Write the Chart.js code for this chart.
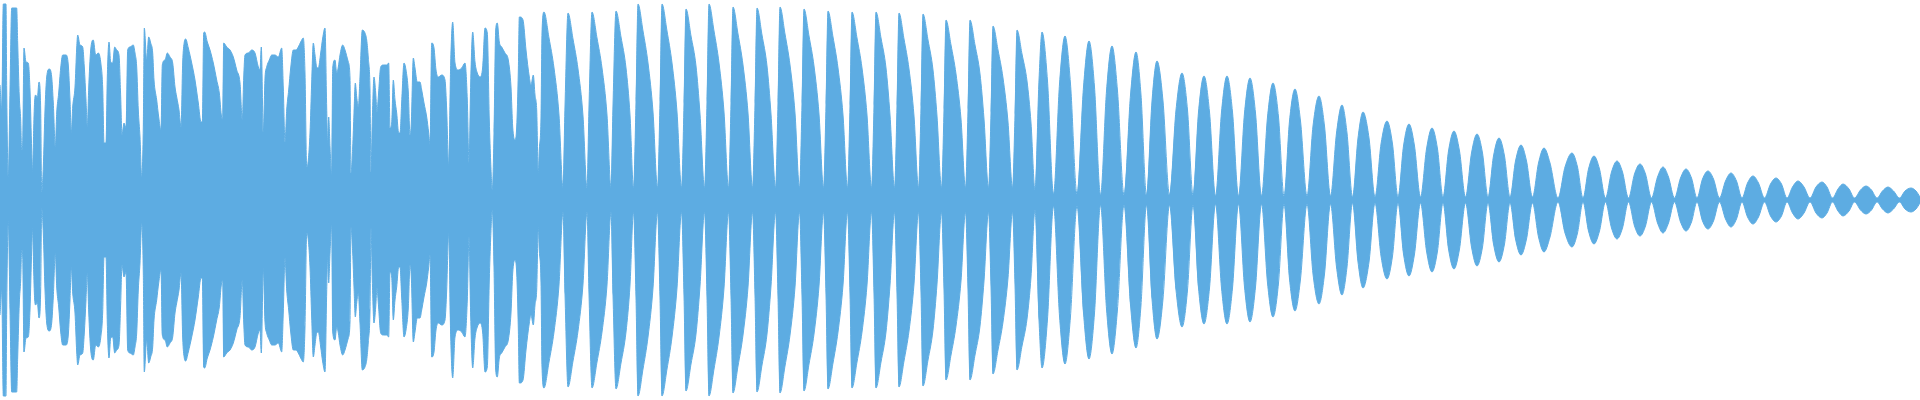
<!DOCTYPE html>
<html><head><meta charset="utf-8">
<script src="https://cdn.jsdelivr.net/npm/chart.js@4"></script>
<style>html,body{margin:0;padding:0;background:#fff;overflow:hidden}</style>
</head><body>
<canvas id="c" width="1920" height="400"></canvas>
<script>
// waveform envelope: [time (ms), peak amplitude]
const attack = [
[0,115],[1.7,90],[3.3,196],[6,196],[6.7,110],[8.3,21],[10,110],[11.7,192],[16.7,192],[17.7,157],[19.3,103],[20.7,80],[21.7,50],[22.7,57],[24,152],[26,138],[28.3,137],[30,110],[31.7,50],[32.7,28],[33.7,72],[34.7,100],[35.7,105],[37.3,102],[39,118],[40.7,90],[41.7,8],[43.3,33],[45,90],[46.7,123],[49.3,131],[51.7,123],[53.3,97],[55.3,53],[56.7,87],[58.7,107],[60.7,132],[62.7,145],[66,145],[68.3,135],[70,100],[71.3,67],[72.7,93],[75,113],[76.7,152],[77.7,165],[80,155],[82.7,153],[84.3,133],[86,100],[87.3,73],[88.7,112],[90.7,150],[93.3,160],[95.7,145],[98.3,147],[100.7,138],[102.7,112],[104,57],[106,57],[107.3,123],[109,158],[110.7,138],[112.7,137],[114.7,153],[116.7,150],[119,145],[120.7,103],[122,65],[124,77],[126,72],[127.7,150],[130,153],[133.3,155],[135,147],[136.7,133],[138.3,90],[140,63],[141.7,23],[143.3,73],[144.3,172],[146.7,140],[148.7,163],[150.7,157],[152.7,147],[154,120],[156.7,100],[158.7,83],[161,70],[162.3,135],[165,140],[167.3,147],[170,143],[172.7,137],[175,113],[176.7,103],[179,90],[181,73],[182.7,138],[184.3,158],[185.7,161],[188.3,152],[191.7,137],[195,120],[198.3,97],[201,78],[202.3,78],[203.7,167],[204.7,168],[207.3,158],[210,150],[213.3,137],[216.7,120],[219.3,107],[221.3,85],[222.7,80],[223.7,157],[226.7,153],[230,150],[233.3,143],[236.7,130],[240,117],[242.3,80],[243.7,122],[245,145],[248.3,147],[251.7,150],[255,147],[258.3,133],[260,130],[261.3,153],[263.3,68],[265,122],[266.7,133],[269.3,140],[271.7,145],[275,145],[278.3,143],[281.7,152],[283.3,112],[285,58],[286.7,90],[288.7,110],[290.7,132],[293.3,150],[296,150],[298.3,153],[300.7,158],[303.3,162],[305,127],[306.7,33],[308.3,40],[310,67],[311.7,118],[313.3,157],[315,145],[316.7,133],[318.3,132],[320.7,147],[322.7,162],[325,172],[326.7,92],[327.7,57],[328.7,83],[330,53],[331.7,25],[332.7,132],[335,140],[336.7,127],[338.3,133],[340,145],[342.7,155],[345,150],[348.3,138],[350,122],[351,27],[352.7,53],[354,87],[355.3,117],[356.7,103],[358.3,93],[360,123],[362.3,170],[365,167],[366.7,160],[368.3,142],[370,110],[371,28],[372.3,80],[374,123],[375.7,107],[377,88],[378.3,103],[380.7,133],[383.3,135],[386.7,135],[388.7,137],[390,72],[391.7,77],[393.3,120],[395,100],[396.7,87],[398.7,67],[400,67],[401.7,98],[404,137],[406,130],[408.3,108],[410,65],[411.3,77],[413.3,142],[415,132],[417.3,118],[420,118],[421.7,110],[424,97],[426.7,83],[428.7,67],[430,55],[431.7,157],[434,152],[436,130],[438.3,123],[441.7,125],[445,120],[446.7,90],[448.7,33],[450.7,137],[452.7,178],[455,137],[458.3,130],[461.7,132],[465,137],[467.3,100],[469,37],[470.7,117],[472.7,168],[475,138],[477.3,127],[480,123],[482.7,133],[485,172],[487.3,167],[489.3,80],[490.7,38],[492.3,10],[494,67],[495.7,170],[497.3,177],[499.3,158],[501.7,153],[505,147],[508.3,140],[511,113],[512.7,73],[515,60],[516.7,73],[518.3,128],[519.3,183],
[520,183],[523,180],[526,150],[529.3,123],[531,115],[533.3,125],[535,105],[536.7,90],[538.3,27],[539.3,50],[541,83],[542,167]
];
const sustain = [
[544,188],[549,162],[554,132],[559,85],[563,12],[565,94],
[568,187],[573,161],[578,131],[583,84],[587,12],[589,94],
[592,188],[597,162],[602,132],[607,85],[611,12],[613,95],
[616,189],[621,163],[626,132],[630,85],[633.5,12],[636,98],
[638,196],[643,169],[648,137],[653,88],[657.5,12],[660,98],
[662,196],[667,169],[672,137],[677,88],[681.5,12],[684,96],
[686,191],[691,164],[696,134],[700,86],[704.5,12],[707,98],
[709,196],[714,169],[719,137],[724,88],[728.5,12],[731,97],
[733,193],[738,166],[743,135],[748,87],[752.5,12],[755,96],
[757,192],[762,165],[767,134],[771,86],[775.5,12],[778,97],
[780,193],[785,166],[790,135],[795,87],[799.5,12],[802,96],
[804,191],[809,164],[814,134],[819,86],[823.5,12],[826,95],
[828,189],[833,163],[838,132],[843,85],[847.5,12],[850,94],
[852,188],[857,162],[862,132],[867,85],[871.5,12],[874,94],
[876,188],[881,162],[886,132],[890,85],[894.5,12],[897,94],
[899,187],[904,161],[909,131],[914,84],[918.5,12],[921,93],
[923,186],[928,160],[933,130],[937,84],[941.5,12],[944,90],
[946,180],[951,155],[956,126],[961,81],[965.5,12],[968,90],
[970,180],[975,155],[980,126],[984,81],[988.5,12],[991,87],
[993,174],[998,150],[1003,122],[1008,78],[1012.5,12],[1015,85],
[1017,170],[1022,146],[1027,119],[1031,77],[1035,10],[1039,120]
];
const release = [
[1042,168],[1047.5,119],[1053.5,6],
[1059.5,116],[1065,164],[1070.5,116],[1077,6],
[1083.5,113],[1089,159],[1094.5,113],[1100.5,5],
[1106.5,109],[1112,154],[1117.5,109],[1124,5],
[1130.5,105],[1136,148],[1141,105],[1146.5,5],
[1152,99],[1157,139],[1163,99],[1169.5,5],
[1176,90],[1182,127],[1187.5,90],[1193,5],
[1198.5,88],[1204,124],[1209.5,88],[1215.5,4],
[1221.5,88],[1227,124],[1232.5,88],[1238.5,4],
[1244.5,87],[1250,122],[1255.5,87],[1261.5,4],
[1267.5,83],[1273,117],[1278.5,83],[1284,4],
[1289.5,79],[1295,111],[1300.5,79],[1307,4],
[1313,74],[1319,104],[1324.5,74],[1330.5,4],
[1336.5,67],[1342,95],[1347,67],[1352.5,3],
[1358,62],[1363,88],[1369,62],[1375,3],
[1381,56],[1387,79],[1392.5,56],[1398,3],
[1403.5,54],[1409,76],[1414.5,54],[1420.5,3],
[1426.5,51],[1432,72],[1437.5,51],[1443,3],
[1448.5,49],[1454,69],[1459.5,49],[1465.5,3],
[1471.5,47],[1477,66],[1482.5,47],[1488,3],
[1493.5,44],[1499,62],[1504.5,44],[1510,3],
[1515.5,39],[1521,55],[1526.5,39],[1532.5,3],
[1538.5,37],[1544,52],[1550,37],[1558,2],
[1565,33],[1572,47],[1577.5,33],[1583,2],
[1588.5,31],[1594,44],[1599.5,31],[1605.5,2],
[1611.5,28],[1617,39],[1622.5,28],[1628.5,2],
[1634.5,26],[1640,36],[1645.5,26],[1651.5,2],
[1657.5,23],[1663,33],[1668.5,23],[1674.5,2],
[1680.5,22],[1686,31],[1691.5,22],[1697,2],
[1702.5,21],[1708,29],[1713.5,21],[1719.5,2],
[1725.5,19],[1731,27],[1736.5,19],[1742,2],
[1747.5,17],[1753,24],[1758.5,17],[1764.5,2],
[1770.5,16],[1776,22],[1781.5,16],[1787,2],
[1792.5,13],[1798,19],[1804,13],[1810,2],
[1816,13],[1822,18],[1827,13],[1832.5,2],
[1838,11],[1843,16],[1849,11],[1854.5,2],
[1860.5,10],[1866,14],[1871.5,10],[1877,2],
[1882.5,9],[1888,13],[1893.5,9],[1899.5,2],
[1905,9],[1911,12],[1916,9],[1920,3]
];
const envelope = attack.concat(sustain, release);
const color = '#5dace2';
const upper = envelope.map(p => ({x: p[0], y: p[1]}));
const lower = envelope.map(p => ({x: p[0], y: -p[1]}));
const ds = d => ({data: d, borderColor: color, backgroundColor: color, borderWidth: 1,
  fill: 'origin', pointRadius: 0, cubicInterpolationMode: 'monotone'});
new Chart(document.getElementById('c'), {
  type: 'line',
  data: {datasets: [ds(upper), ds(lower)]},
  options: {
    responsive: false, animation: false, devicePixelRatio: 1,
    layout: {padding: 0},
    plugins: {legend: {display: false}, tooltip: {enabled: false}},
    scales: {
      x: {type: 'linear', min: 0, max: 1920, display: false},
      y: {min: -200, max: 200, display: false}
    }
  }
});
</script>
</body></html>
